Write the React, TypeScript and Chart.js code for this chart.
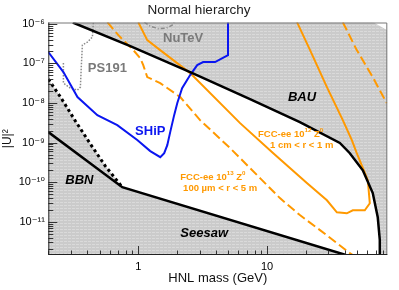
import React, { useEffect, useRef } from 'react';
import { Chart, registerables } from 'chart.js';

Chart.register(...registerables);

// ---- axes ----
const X_MIN = 0.2;
const X_MAX = 86;
const Y_MIN = 1.45e-12;
const Y_MAX = 1.08e-6;
const X_MAJOR = [1, 10];
const X_MAJOR_LABELS = ['1', '10'];
const Y_MAJOR = [1e-11, 1e-10, 1e-9, 1e-8, 1e-7, 1e-6];
const Y_MAJOR_LABELS = ['10⁻¹¹', '10⁻¹⁰', '10⁻⁹', '10⁻⁸', '10⁻⁷', '10⁻⁶'];

// ---- curves: [HNL mass (GeV), |U|^2] ----
const BAU: [number, number][] = [
  [0.31, 1.08e-6], [0.867, 2.73e-7], [2.53, 6.0e-8], [7.38, 1.25e-8], [18.0, 3.3e-9],
  [36.8, 9.8e-10], [44.0, 5.4e-10], [55.5, 2.0e-10], [66.3, 5.3e-11], [72.5, 1.3e-11],
  [75.2, 3.5e-12], [75.2, 1.45e-12],
];
// excluded region corner above BAU (top-right notch)
const BAU_REGION_EDGE: [number, number][] = [
  [86, 1.45e-12], [86, 6.9e-7], [67.5, 1.08e-6],
];
const BBN_DOTTED: [number, number][] = [
  [0.2, 4.0e-8], [0.249, 1.41e-8], [0.325, 3.49e-9], [0.425, 9.2e-10], [0.555, 2.55e-10], [0.751, 7.5e-11],
];
const SEESAW_BBN: [number, number][] = [
  [0.2, 1.84e-9], [0.751, 7.5e-11], [41.0, 1.45e-12],
];
const LOWER_REGION_EDGE: [number, number][] = [
  [41.0, 1.45e-12], [0.2, 1.45e-12],
];
const PS191: [number, number][] = [
  [0.262, 1.02e-7], [0.262, 3.18e-8], [0.297, 2.38e-8], [0.337, 2.12e-8], [0.355, 2.52e-8],
  [0.362, 1.02e-7], [0.368, 2.9e-7], [0.402, 3.45e-7], [0.44, 4.61e-7], [0.448, 1.1e-6],
];
const NUTEV: [number, number][] = [
  [1.113, 1.1e-6], [1.239, 8.75e-7], [1.429, 7.56e-7], [1.648, 7.78e-7], [1.834, 9.27e-7], [1.9, 1.1e-6],
];
const SHIP: [number, number][] = [
  [0.2, 1.93e-7], [0.262, 6.03e-8], [0.337, 1.41e-8], [0.481, 4.94e-9], [0.687, 2.77e-9],
  [0.982, 1.16e-9], [1.239, 6.1e-10], [1.482, 4.3e-10], [1.59, 5.43e-10], [1.68, 8.65e-10],
  [1.77, 1.84e-9], [1.9, 4.94e-9], [2.01, 1.0e-8], [2.19, 2.38e-8], [2.53, 5.07e-8],
  [2.87, 9.06e-8], [3.19, 1.08e-7], [3.95, 1.08e-7], [4.98, 1.62e-7], [4.98, 1.1e-6],
];
const FCC_1E12: [number, number][] = [
  [1.0, 1.1e-6], [1.174, 3.87e-7], [1.48, 2.17e-7], [2.53, 5.69e-8], [6.18, 3.1e-9],
  [11.13, 5.43e-10], [20.4, 9.5e-11], [29.2, 3.49e-11], [34.9, 1.74e-11], [41.7, 1.64e-11],
  [46.4, 1.95e-11], [57.5, 1.95e-11], [62.9, 2.93e-11], [60.7, 1.12e-10], [49.8, 5.43e-10],
  [45.6, 1.16e-9], [38.8, 3.7e-9], [29.2, 2.52e-8], [21.6, 2.17e-7], [17.1, 1.1e-6],
];
const FCC_1E13: [number, number][] = [
  [0.575, 1.1e-6], [0.7, 5.19e-7], [0.822, 3.07e-7], [0.915, 2.17e-7], [1.036, 1.36e-7],
  [1.093, 9.06e-8], [1.174, 4.51e-8], [1.48, 3.18e-8], [2.12, 1.41e-8], [3.02, 3.7e-9],
  [5.17, 7.26e-10], [8.83, 1.27e-10], [12.6, 3.96e-11], [18.0, 1.48e-11], [25.8, 6.17e-12],
  [34.9, 2.9e-12], [44.0, 1.62e-12], [46.4, 1.45e-12], [86, 1.45e-12],
];
const FCC_1E13_UPPER: [number, number][] = [
  [38.8, 1.1e-6], [49.8, 2.17e-7], [66.3, 4.51e-8], [85.1, 9.95e-9],
];

// ---- excluded (grey) regions, built from the curves above ----
const REGIONS: [number, number][][] = [
  [...BAU, ...BAU_REGION_EDGE],
  [...BBN_DOTTED, ...SEESAW_BBN.slice(1), ...LOWER_REGION_EDGE],
];

// ---- text annotations, anchored in data coordinates ----
type Part = [string, boolean?];
const LABELS: { parts: Part[]; at: [number, number]; color: string; font: string; align: 'left' | 'center' }[] = [
  { parts: [['NuTeV']], at: [2.23, 4.35e-7], color: '#7a7a7a', font: 'bold 13px', align: 'center' },
  { parts: [['PS191']], at: [0.575, 7.6e-8], color: '#7a7a7a', font: 'bold 13px', align: 'center' },
  { parts: [['SHiP']], at: [1.239, 1.95e-9], color: '#0b16f0', font: 'bold 13px', align: 'center' },
  { parts: [['BAU']], at: [18.7, 1.41e-8], color: '#000', font: 'italic bold 13px', align: 'center' },
  { parts: [['BBN']], at: [0.349, 1.12e-10], color: '#000', font: 'italic bold 13px', align: 'center' },
  { parts: [['Seesaw']], at: [3.25, 5.2e-12], color: '#000', font: 'italic bold 13px', align: 'center' },
  { parts: [['FCC-ee 10'], ['12', true], [' Z'], ['0', true]], at: [8.51, 1.64e-9], color: '#ff9900', font: 'bold 9.5px', align: 'left' },
  { parts: [['1 cm < r < 1 m']], at: [10.55, 8.65e-10], color: '#ff9900', font: 'bold 9.5px', align: 'left' },
  { parts: [['FCC-ee 10'], ['13', true], [' Z'], ['0', true]], at: [2.12, 1.33e-10], color: '#ff9900', font: 'bold 9.5px', align: 'left' },
  { parts: [['100 µm < r < 5 m']], at: [2.23, 7.0e-11], color: '#ff9900', font: 'bold 9.5px', align: 'left' },
];

const FAMILY = '"Liberation Sans", "DejaVu Sans", Arial, sans-serif';
const pts = (a: [number, number][]) => a.map(([x, y]) => ({ x, y }));

function minorValues(min: number, max: number) {
  const out: { v: number; major: boolean }[] = [];
  for (let e = Math.floor(Math.log10(min)); e <= Math.ceil(Math.log10(max)); e++) {
    for (let m = 1; m <= 9; m++) {
      const v = m * Math.pow(10, e);
      if (v >= min * 0.999 && v <= max * 1.001) out.push({ v, major: m === 1 });
    }
  }
  return out;
}

let greyPattern: CanvasPattern | null = null;

const regionPlugin = {
  id: 'regions',
  beforeDatasetsDraw(chart: any) {
    const { ctx, chartArea: a, scales } = chart;
    if (!greyPattern) {
      const pc = document.createElement('canvas');
      pc.width = 4;
      pc.height = 3;
      const p = pc.getContext('2d')!;
      p.fillStyle = '#cbcbcb';
      p.fillRect(0, 0, 4, 3);
      p.fillStyle = '#dadada';
      p.fillRect(0, 1, 3, 1);
      greyPattern = ctx.createPattern(pc, 'repeat');
    }
    ctx.save();
    ctx.beginPath();
    ctx.rect(a.left, a.top, a.right - a.left, a.bottom - a.top);
    ctx.clip();
    ctx.fillStyle = greyPattern;
    for (const poly of REGIONS) {
      ctx.beginPath();
      poly.forEach(([m, u], i) => {
        const x = scales.x.getPixelForValue(m);
        const y = scales.y.getPixelForValue(u);
        if (i === 0) ctx.moveTo(x, y);
        else ctx.lineTo(x, y);
      });
      ctx.closePath();
      ctx.fill();
    }
    ctx.restore();
  },
};

const decorPlugin = {
  id: 'decor',
  afterDatasetsDraw(chart: any) {
    const { ctx, chartArea: a, scales } = chart;
    const xs = scales.x, ys = scales.y;
    ctx.save();
    // inside ticks
    ctx.strokeStyle = '#333';
    ctx.lineWidth = 1;
    for (const t of minorValues(Y_MIN, Y_MAX)) {
      const py = Math.round(ys.getPixelForValue(t.v)) + 0.5;
      ctx.beginPath();
      ctx.moveTo(a.left, py);
      ctx.lineTo(a.left + (t.major ? 9 : 5), py);
      ctx.stroke();
    }
    for (const t of minorValues(X_MIN, X_MAX)) {
      const px = Math.round(xs.getPixelForValue(t.v)) + 0.5;
      ctx.beginPath();
      ctx.moveTo(px, a.bottom);
      ctx.lineTo(px, a.bottom - (t.major ? 9 : 4.5));
      ctx.stroke();
    }
    // frame
    ctx.strokeStyle = '#777';
    ctx.beginPath();
    ctx.moveTo(a.left, a.top + 0.5);
    ctx.lineTo(a.right - 0.5, a.top + 0.5);
    ctx.lineTo(a.right - 0.5, a.bottom);
    ctx.stroke();
    ctx.strokeStyle = '#222';
    ctx.beginPath();
    ctx.moveTo(a.left + 0.5, a.top);
    ctx.lineTo(a.left + 0.5, a.bottom - 0.5);
    ctx.lineTo(a.right, a.bottom - 0.5);
    ctx.stroke();

    // labels
    ctx.textBaseline = 'middle';
    for (const l of LABELS) {
      const x0 = xs.getPixelForValue(l.at[0]);
      const y0 = ys.getPixelForValue(l.at[1]);
      const size = parseFloat(l.font.match(/([\d.]+)px/)![1]);
      const prefix = l.font.replace(/[\d.]+px/, '');
      const mainFont = `${prefix}${size}px ${FAMILY}`;
      const supFont = `${prefix}${(size * 0.65).toFixed(1)}px ${FAMILY}`;
      let w = 0;
      for (const [t, sup] of l.parts) {
        ctx.font = sup ? supFont : mainFont;
        w += ctx.measureText(t).width;
      }
      let x = l.align === 'center' ? x0 - w / 2 : x0;
      ctx.fillStyle = l.color;
      ctx.textAlign = 'left';
      for (const [t, sup] of l.parts) {
        ctx.font = sup ? supFont : mainFont;
        ctx.fillText(t, x, sup ? y0 - size * 0.4 : y0);
        x += ctx.measureText(t).width;
      }
    }
    // title
    ctx.font = `13.5px ${FAMILY}`;
    ctx.fillStyle = '#222';
    ctx.textAlign = 'center';
    ctx.fillText('Normal hierarchy', 199, 10.5);
    ctx.restore();
  },
};

export default function App() {
  const ref = useRef<HTMLCanvasElement>(null);
  useEffect(() => {
    const canvas = ref.current!;
    const line = (label: string, data: [number, number][], color: string, width: number, dash: number[] = []) => ({
      label,
      data: pts(data),
      borderColor: color,
      borderWidth: width,
      borderDash: dash,
      pointRadius: 0,
      fill: false,
      tension: 0,
    });

    const chart = new Chart(canvas, {
      type: 'line',
      data: {
        datasets: [
          line('BBN (dotted)', BBN_DOTTED, '#000', 3, [3, 3]),
          line('Seesaw / BBN', SEESAW_BBN, '#000', 2.5),
          line('BAU', BAU, '#000', 2.5),
          line('SHiP', SHIP, '#0b16f0', 2),
          line('FCC-ee 10^12 Z0, 1 cm < r < 1 m', FCC_1E12, '#ff9900', 2),
          line('FCC-ee 10^13 Z0, 100 µm < r < 5 m', FCC_1E13, '#ff9900', 2, [9, 4]),
          line('FCC-ee 10^13 Z0 (upper)', FCC_1E13_UPPER, '#ff9900', 2, [9, 4]),
          line('NuTeV', NUTEV, '#8a8a8a', 1.5, [4, 2, 1, 2]),
          line('PS191', PS191, '#8a8a8a', 1.5, [1.5, 1.5]),
        ],
      },
      options: {
        animation: false,
        responsive: true,
        maintainAspectRatio: false,
        layout: { padding: { top: 22.5, right: 11.7, left: 0, bottom: 0 } },
        plugins: { legend: { display: false }, tooltip: { enabled: false }, title: { display: false } },
        scales: {
          x: {
            type: 'logarithmic',
            min: X_MIN,
            max: X_MAX,
            grid: { display: false, drawTicks: false },
            border: { display: false },
            afterBuildTicks: (s: any) => { s.ticks = X_MAJOR.map((value) => ({ value })); },
            afterFit: (s: any) => { s.height = 35; },
            ticks: {
              autoSkip: false,
              maxRotation: 0,
              padding: 5,
              color: '#000',
              font: { family: FAMILY, size: 11 },
              callback: (v: any) => X_MAJOR_LABELS[X_MAJOR.indexOf(Number(v))] ?? '',
            },
            title: {
              display: true,
              text: 'HNL mass (GeV)',
              color: '#111',
              font: { family: FAMILY, size: 13 },
              padding: { top: 0, bottom: 4 },
            },
          },
          y: {
            type: 'logarithmic',
            min: Y_MIN,
            max: Y_MAX,
            grid: { display: false, drawTicks: false },
            border: { display: false },
            afterBuildTicks: (s: any) => { s.ticks = Y_MAJOR.map((value) => ({ value })); },
            afterFit: (s: any) => { s.width = 48.3; },
            ticks: {
              autoSkip: false,
              padding: 3.5,
              color: '#000',
              font: { family: FAMILY, size: 11 },
              callback: (v: any) => {
                const i = Y_MAJOR.findIndex((m) => Math.abs(m - Number(v)) / m < 1e-6);
                return i >= 0 ? Y_MAJOR_LABELS[i] : '';
              },
            },
            title: {
              display: true,
              text: '|U|²',
              color: '#111',
              font: { family: FAMILY, size: 12 },
              padding: { top: 0, bottom: 0 },
            },
          },
        },
      },
      plugins: [regionPlugin, decorPlugin],
    } as any);
    return () => chart.destroy();
  }, []);

  return (
    <div style={{ position: 'absolute', left: 0, top: 0, width: 399, height: 290 }}>
      <canvas ref={ref} />
    </div>
  );
}
